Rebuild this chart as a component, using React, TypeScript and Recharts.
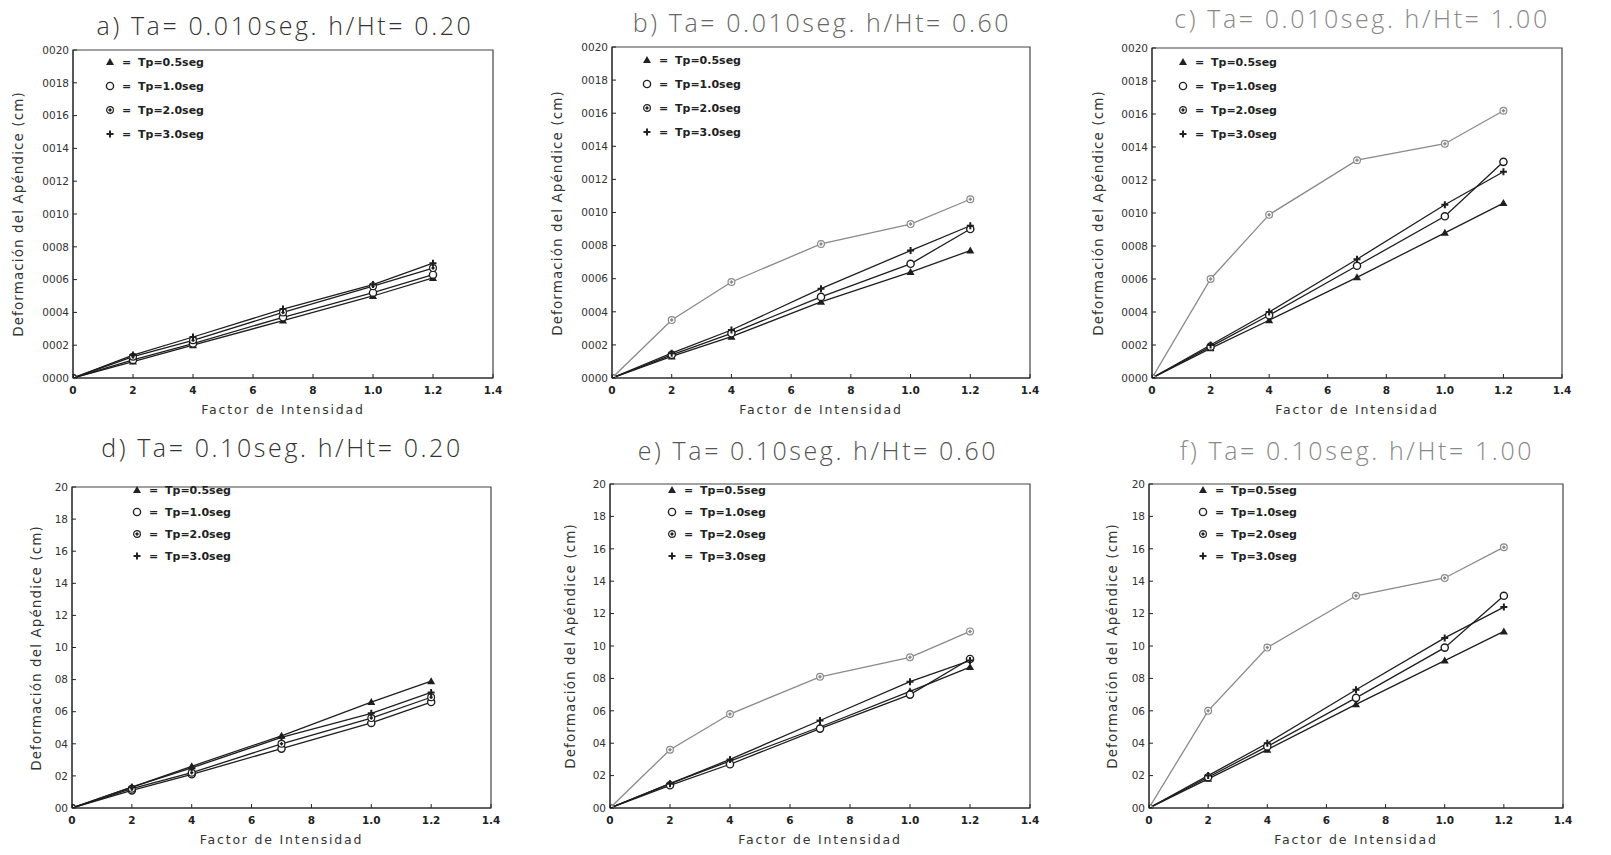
import { Line, LineChart, ReferenceArea, XAxis, YAxis } from "recharts";

// factor de intensidad (x) at which every run was evaluated
const intensity = [0, 0.2, 0.4, 0.7, 1.0, 1.2];

const xTicks = [0, 0.2, 0.4, 0.6, 0.8, 1.0, 1.2, 1.4];
const xTickLabels = ["0", "2", "4", "6", "8", "1.0", "1.2", "1.4"];

const yTicksSmall = [0, 0.0002, 0.0004, 0.0006, 0.0008, 0.001, 0.0012, 0.0014, 0.0016, 0.0018, 0.002];
const yTickLabelsSmall = ["0000", "0002", "0004", "0006", "0008", "0010", "0012", "0014", "0016", "0018", "0020"];
const yTicksLarge = [0, 0.2, 0.4, 0.6, 0.8, 1.0, 1.2, 1.4, 1.6, 1.8, 2.0];
const yTickLabelsLarge = ["00", "02", "04", "06", "08", "10", "12", "14", "16", "18", "20"];

const seriesNames = ["Tp=0.5seg", "Tp=1.0seg", "Tp=2.0seg", "Tp=3.0seg"];

// a) Ta=0.010seg h/Ht=0.20
const aTp05 = [0, 0.0001, 0.0002, 0.00035, 0.0005, 0.00061];
const aTp10 = [0, 0.00011, 0.00021, 0.00037, 0.00052, 0.00063];
const aTp20 = [0, 0.00013, 0.00023, 0.0004, 0.00056, 0.00067];
const aTp30 = [0, 0.00014, 0.00025, 0.00042, 0.00057, 0.0007];

// b) Ta=0.010seg h/Ht=0.60
const bTp05 = [0, 0.00013, 0.00025, 0.00046, 0.00064, 0.00077];
const bTp10 = [0, 0.00014, 0.00027, 0.00049, 0.00069, 0.0009];
const bTp20 = [0, 0.00035, 0.00058, 0.00081, 0.00093, 0.00108];
const bTp30 = [0, 0.00015, 0.00029, 0.00054, 0.00077, 0.00092];

// c) Ta=0.010seg h/Ht=1.00
const cTp05 = [0, 0.00018, 0.00035, 0.00061, 0.00088, 0.00106];
const cTp10 = [0, 0.00019, 0.00038, 0.00068, 0.00098, 0.00131];
const cTp20 = [0, 0.0006, 0.00099, 0.00132, 0.00142, 0.00162];
const cTp30 = [0, 0.0002, 0.0004, 0.00072, 0.00105, 0.00125];

// d) Ta=0.10seg h/Ht=0.20
const dTp05 = [0, 0.13, 0.26, 0.45, 0.66, 0.79];
const dTp10 = [0, 0.11, 0.21, 0.37, 0.53, 0.66];
const dTp20 = [0, 0.12, 0.22, 0.4, 0.56, 0.69];
const dTp30 = [0, 0.13, 0.25, 0.44, 0.59, 0.72];

// e) Ta=0.10seg h/Ht=0.60
const eTp05 = [0, 0.15, 0.29, 0.5, 0.72, 0.87];
const eTp10 = [0, 0.14, 0.27, 0.49, 0.7, 0.92];
const eTp20 = [0, 0.36, 0.58, 0.81, 0.93, 1.09];
const eTp30 = [0, 0.15, 0.3, 0.54, 0.78, 0.91];

// f) Ta=0.10seg h/Ht=1.00
const fTp05 = [0, 0.18, 0.36, 0.64, 0.91, 1.09];
const fTp10 = [0, 0.19, 0.38, 0.68, 0.99, 1.31];
const fTp20 = [0, 0.6, 0.99, 1.31, 1.42, 1.61];
const fTp30 = [0, 0.2, 0.4, 0.73, 1.05, 1.24];

const KEYS = ["tp05", "tp10", "tp20", "tp30"];
const MARKERS = ["triangle", "circle", "diamond", "plus"];

const panels = [
  { title: "a) Ta= 0.010seg. h/Ht= 0.20", series: [aTp05, aTp10, aTp20, aTp30], small: true,
    plot: { left: 73, top: 50, right: 493, bottom: 378 }, titleX: 285, titleY: 25,
    legend: { x: 110, y: 62, gap: 24 }, ink: "#333", fade: false, labelX: 18 },
  { title: "b) Ta= 0.010seg. h/Ht= 0.60", series: [bTp05, bTp10, bTp20, bTp30], small: true,
    plot: { left: 612, top: 47, right: 1030, bottom: 378 }, titleX: 822, titleY: 22,
    legend: { x: 647, y: 60, gap: 24 }, ink: "#666", fade: true, labelX: 557 },
  { title: "c) Ta= 0.010seg. h/Ht= 1.00", series: [cTp05, cTp10, cTp20, cTp30], small: true,
    plot: { left: 1152, top: 48, right: 1562, bottom: 378 }, titleX: 1362, titleY: 18,
    legend: { x: 1183, y: 62, gap: 24 }, ink: "#888", fade: true, labelX: 1098 },
  { title: "d) Ta= 0.10seg. h/Ht= 0.20", series: [dTp05, dTp10, dTp20, dTp30], small: false,
    plot: { left: 72, top: 487, right: 491, bottom: 808 }, titleX: 282, titleY: 447,
    legend: { x: 137, y: 490, gap: 22 }, ink: "#333", fade: false, labelX: 36 },
  { title: "e) Ta= 0.10seg. h/Ht= 0.60", series: [eTp05, eTp10, eTp20, eTp30], small: false,
    plot: { left: 610, top: 484, right: 1030, bottom: 808 }, titleX: 818, titleY: 450,
    legend: { x: 672, y: 490, gap: 22 }, ink: "#555", fade: true, labelX: 570 },
  { title: "f) Ta= 0.10seg. h/Ht= 1.00", series: [fTp05, fTp10, fTp20, fTp30], small: false,
    plot: { left: 1149, top: 484, right: 1563, bottom: 808 }, titleX: 1357, titleY: 450,
    legend: { x: 1203, y: 490, gap: 22 }, ink: "#888", fade: true, labelX: 1112 },
];

const FONT = "'DejaVu Sans', sans-serif";

function Marker({ kind, cx, cy, color }: { kind: string; cx: number; cy: number; color: string }) {
  if (kind === "triangle") {
    return <path d={`M${cx},${cy - 4} L${cx + 4},${cy + 3} L${cx - 4},${cy + 3} Z`} fill={color} />;
  }
  if (kind === "circle") {
    return <circle cx={cx} cy={cy} r={3.6} fill="#fff" stroke={color} strokeWidth={1.4} />;
  }
  if (kind === "diamond") {
    return (
      <g>
        <circle cx={cx} cy={cy} r={3.4} fill="#fff" stroke={color} strokeWidth={1.2} />
        <path d={`M${cx},${cy - 2} L${cx + 2},${cy} L${cx},${cy + 2} L${cx - 2},${cy} Z`} fill={color} />
      </g>
    );
  }
  return (
    <path d={`M${cx - 3.5},${cy} L${cx + 3.5},${cy} M${cx},${cy - 3.5} L${cx},${cy + 3.5}`} stroke={color} strokeWidth={2} />
  );
}

function Panel({ p }: { p: (typeof panels)[number] }) {
  const padL = 55;
  const padT = 8;
  const padR = 10;
  const axisH = 30;
  const plotW = p.plot.right - p.plot.left;
  const plotH = p.plot.bottom - p.plot.top;
  const yMax = p.small ? 0.002 : 2.0;
  const yTicks = p.small ? yTicksSmall : yTicksLarge;
  const yLabels = p.small ? yTickLabelsSmall : yTickLabelsLarge;

  const rows = intensity.map((x, i) => {
    const row: Record<string, number> = { x };
    KEYS.forEach((k, s) => (row[k] = p.series[s][i]));
    return row;
  });

  const lineColor = (s: number) => (p.fade && s === 2 ? "#8a8a8a" : "#1e1e1e");

  return (
    <>
      <div
        style={{
          position: "absolute", left: p.titleX - 250, top: p.titleY - 17, width: 500,
          textAlign: "center", fontFamily: "'Open Sans', sans-serif", fontWeight: 300,
          fontSize: 25, letterSpacing: 2.6, color: p.ink, lineHeight: "34px", whiteSpace: "nowrap",
        }}
      >
        {p.title}
      </div>

      <div style={{ position: "absolute", left: p.plot.left - padL, top: p.plot.top - padT }}>
        <LineChart
          width={plotW + padL + padR}
          height={plotH + padT + axisH}
          data={rows}
          margin={{ top: padT, right: padR, bottom: 0, left: 0 }}
        >
          <XAxis
            dataKey="x"
            type="number"
            domain={[0, 1.4]}
            ticks={xTicks}
            allowDataOverflow
            height={axisH}
            tickSize={-4}
            tickMargin={13}
            stroke="#222"
            tick={{ fontSize: 10.5, fill: "#222", fontFamily: FONT, fontWeight: 600 }}
            tickFormatter={(_v: number, i: number) => xTickLabels[i]}
          />
          <YAxis
            type="number"
            domain={[0, yMax]}
            ticks={yTicks}
            allowDataOverflow
            width={padL}
            tickSize={-4}
            tickMargin={8}
            stroke="#222"
            tick={{ fontSize: 10.5, fill: "#333", fontFamily: FONT }}
            tickFormatter={(_v: number, i: number) => yLabels[i]}
          />
          <ReferenceArea x1={0} x2={1.4} y1={0} y2={yMax} fill="none" stroke="#444" strokeWidth={1.2} />
          {KEYS.map((k, s) => (
            <Line
              key={k}
              dataKey={k}
              type="linear"
              stroke={lineColor(s)}
              strokeWidth={1.3}
              isAnimationActive={false}
              dot={(d: any) => (
                <Marker key={`${k}-${d.index}`} kind={MARKERS[s]} cx={d.cx} cy={d.cy} color={lineColor(s)} />
              )}
            />
          ))}
        </LineChart>
      </div>

      <div
        style={{
          position: "absolute", left: p.labelX - 150, top: (p.plot.top + p.plot.bottom) / 2 - 10,
          width: 300, textAlign: "center", transform: "rotate(-90deg)", fontFamily: FONT,
          fontSize: 13.5, letterSpacing: 1.1, color: "#333", lineHeight: "20px", whiteSpace: "nowrap",
        }}
      >
        Deformación del Apéndice (cm)
      </div>
      <div
        style={{
          position: "absolute", left: (p.plot.left + p.plot.right) / 2 - 150, top: p.plot.bottom + 23,
          width: 300, textAlign: "center", fontFamily: FONT, fontSize: 12.5, letterSpacing: 1.8,
          color: "#333", lineHeight: "18px",
        }}
      >
        Factor de Intensidad
      </div>

      {seriesNames.map((name, s) => (
        <div
          key={name}
          style={{
            position: "absolute", left: p.legend.x - 6, top: p.legend.y + s * p.legend.gap - 8,
            height: 16, display: "flex", alignItems: "center", fontFamily: FONT, fontSize: 11,
            fontWeight: 700, color: "#222", whiteSpace: "nowrap",
          }}
        >
          <svg width={12} height={12}>
            <Marker kind={MARKERS[s]} cx={6} cy={6} color="#222" />
          </svg>
          <span style={{ marginLeft: 6, width: 16 }}>=</span>
          <span>{name}</span>
        </div>
      ))}
    </>
  );
}

export default function App() {
  return (
    <div style={{ position: "absolute", left: 0, top: 0, width: 1611, height: 855, background: "#fff" }}>
      {panels.map((p) => (
        <Panel key={p.title} p={p} />
      ))}
    </div>
  );
}
